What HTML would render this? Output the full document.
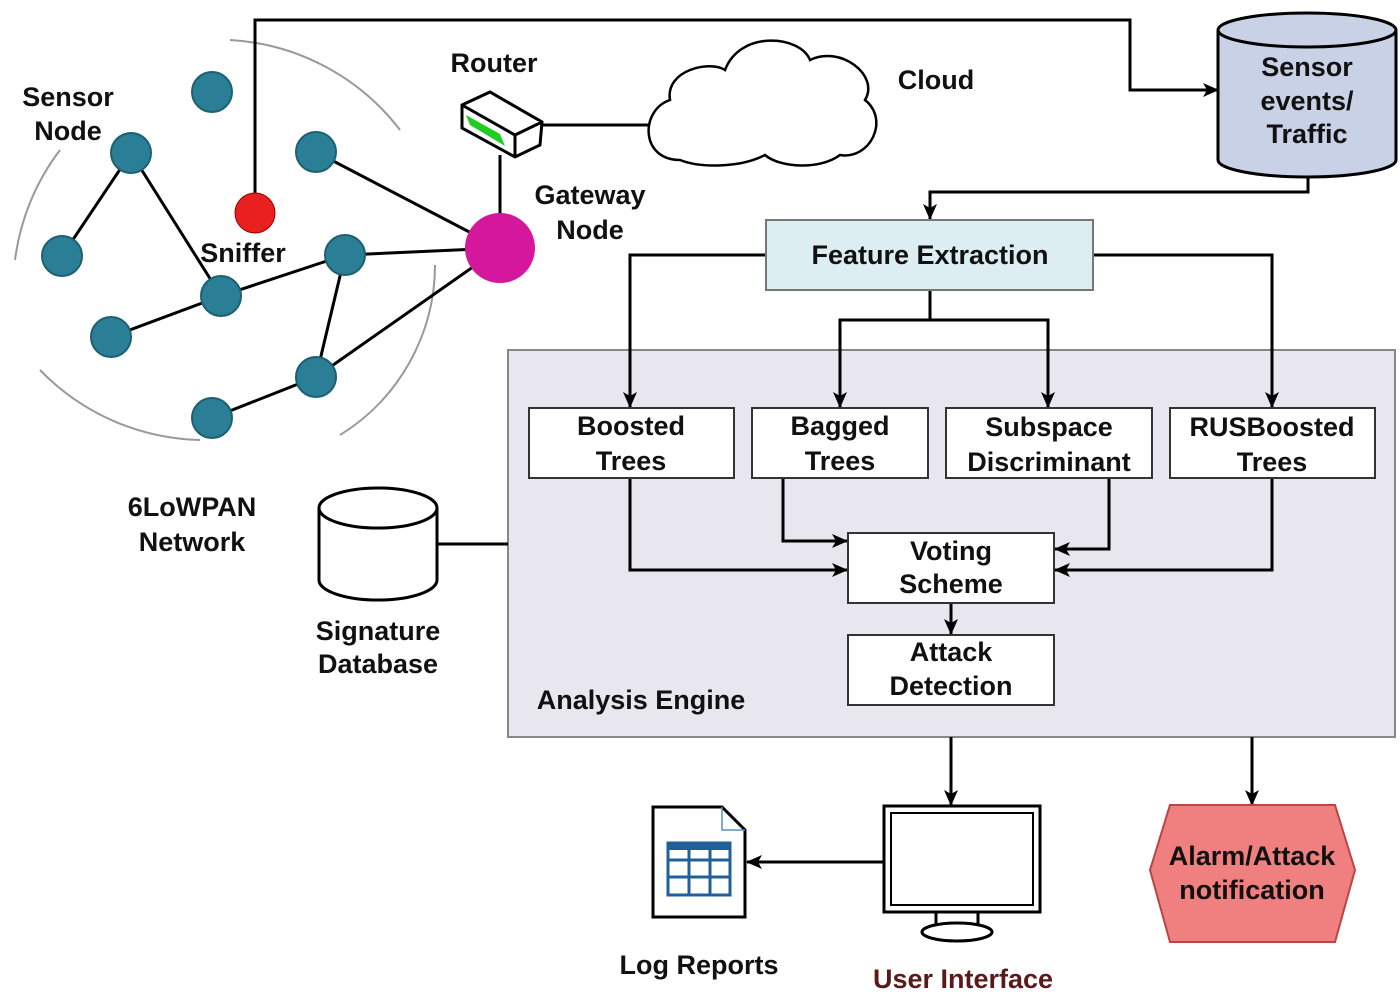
<!DOCTYPE html>
<html><head><meta charset="utf-8"><style>body{margin:0;background:#fff}svg{display:block}text{font-family:"Liberation Sans",sans-serif;font-weight:bold;font-size:27px;fill:#111;text-anchor:middle}</style></head><body>
<svg width="1400" height="994" viewBox="0 0 1400 994">
<defs><marker id="a" markerWidth="16" markerHeight="16" refX="15" refY="8" orient="auto" markerUnits="userSpaceOnUse"><path d="M0,1 L16,8 L0,15 L4,8z" fill="#000"/></marker></defs>
<rect x="508" y="350" width="887" height="387" fill="#e8e6ee" stroke="#888" stroke-width="2"/>
<g fill="none" stroke="#999" stroke-width="2">
<path d="M230,40 A230,230 0 0 1 400,130"/><path d="M60,150 A230,230 0 0 0 15,260"/><path d="M40,370 A230,230 0 0 0 200,440"/><path d="M340,435 A200,200 0 0 0 435,265"/>
</g>
<g stroke="#000" stroke-width="3" fill="none">
<path d="M131,153 L62,256 M131,153 L221,296 M316,152 L500,248 M221,296 L345,255 M111,337 L221,296 M345,255 L500,248 M345,255 L316,377 M316,377 L500,248 M212,418 L316,377 M500,155 L500,215 M540,125 L652,125"/>
<path d="M255,213 V20 H1130 V90 H1218" marker-end="url(#a)"/>
<path d="M1308,178 V192 H930 V219" marker-end="url(#a)"/>
<path d="M766,255 H630 V407" marker-end="url(#a)"/>
<path d="M1093,255 H1272 V407" marker-end="url(#a)"/>
<path d="M930,290 V320 H840 V407" marker-end="url(#a)"/>
<path d="M930,320 H1048 V407" marker-end="url(#a)"/>
<path d="M630,478 V570 H847" marker-end="url(#a)"/>
<path d="M783,478 V541 H847" marker-end="url(#a)"/>
<path d="M1109,478 V549 H1055" marker-end="url(#a)"/>
<path d="M1272,478 V570 H1055" marker-end="url(#a)"/>
<path d="M951,603 V634" marker-end="url(#a)"/>
<path d="M951,737 V805" marker-end="url(#a)"/>
<path d="M1252,737 V805" marker-end="url(#a)"/>
<path d="M884,862 H747" marker-end="url(#a)"/>
<path d="M437,544 H508"/>
</g>
<g fill="#2a7f96" stroke="#1d6070" stroke-width="2">
<circle cx="212" cy="92" r="20"/><circle cx="316" cy="152" r="20"/><circle cx="131" cy="153" r="20"/><circle cx="62" cy="256" r="20"/><circle cx="221" cy="296" r="20"/><circle cx="345" cy="255" r="20"/><circle cx="111" cy="337" r="20"/><circle cx="316" cy="377" r="20"/><circle cx="212" cy="418" r="20"/>
</g>
<circle cx="500" cy="248" r="35" fill="#d4179c"/>
<circle cx="255" cy="213" r="20" fill="#e8201e" stroke="#900" stroke-width="1"/>
<g stroke="#000" stroke-width="3" fill="#fff"><path d="M462,105 L490,92 L542,122 L540,145 L515,157 L462,128z"/><path d="M462,105 L515,135 L542,122 M515,135 L515,157"/></g>
<path d="M466,115 L500,134 L505,146 L470,125z" fill="#2c2"/>
<path d="M680,160 C640,160 640,110 670,100 C665,70 710,60 725,70 C740,30 800,35 810,60 C840,45 880,75 865,100 C890,120 870,160 840,155 C820,170 780,168 765,155 C740,168 700,168 680,160z" fill="#fff" stroke="#000" stroke-width="2.5"/>
<path d="M1218,30 V160 A89,17 0 0 0 1396,160 V30" fill="#c9d1e6" stroke="#000" stroke-width="3"/>
<ellipse cx="1307" cy="30" rx="89" ry="17" fill="#c9d1e6" stroke="#000" stroke-width="3"/>
<path d="M319,508 V580 A59,20 0 0 0 437,580 V508" fill="#fff" stroke="#000" stroke-width="3"/>
<ellipse cx="378" cy="508" rx="59" ry="20" fill="#fff" stroke="#000" stroke-width="3"/>
<rect x="766" y="220" width="327" height="70" fill="#ddeef3" stroke="#777" stroke-width="2"/>
<g fill="#fff" stroke="#333" stroke-width="2">
<rect x="529" y="408" width="205" height="70"/><rect x="752" y="408" width="176" height="70"/><rect x="946" y="408" width="206" height="70"/><rect x="1170" y="408" width="205" height="70"/>
<rect x="848" y="533" width="206" height="70"/><rect x="848" y="635" width="206" height="70"/>
</g>
<path d="M653,807 H722 L745,830 V917 H653z" fill="#fff" stroke="#000" stroke-width="3"/>
<path d="M722,807 V830 H745" fill="none" stroke="#5b8fc0" stroke-width="1.5"/>
<g stroke="#1f5f9a" stroke-width="3" fill="#fff"><rect x="668" y="843" width="62" height="52"/><path d="M668,860 H730 M668,877 H730 M689,850 V895 M710,850 V895"/></g>
<rect x="668" y="843" width="62" height="7" fill="#1f5f9a"/>
<rect x="884" y="806" width="156" height="106" fill="#fff" stroke="#000" stroke-width="3"/>
<rect x="891" y="813" width="142" height="92" fill="#fff" stroke="#000" stroke-width="2"/>
<path d="M936,912 V928 M978,912 V928" stroke="#000" stroke-width="3"/>
<ellipse cx="957" cy="932" rx="35" ry="9" fill="#fff" stroke="#000" stroke-width="3"/>
<polygon points="1170,805 1335,805 1355,870 1335,942 1170,942 1150,870" fill="#f08080" stroke="#b44" stroke-width="2"/>
<text x="68" y="106">Sensor</text><text x="68" y="140">Node</text>
<text x="494" y="72">Router</text><text x="936" y="89">Cloud</text>
<text x="590" y="204">Gateway</text><text x="590" y="239">Node</text>
<text x="243" y="262">Sniffer</text>
<text x="192" y="516">6LoWPAN</text><text x="192" y="551">Network</text>
<text x="378" y="640">Signature</text><text x="378" y="673">Database</text>
<text x="1307" y="76">Sensor</text><text x="1307" y="110">events/</text><text x="1307" y="143">Traffic</text>
<text x="930" y="264">Feature Extraction</text>
<text x="631" y="435">Boosted</text><text x="631" y="470">Trees</text>
<text x="840" y="435">Bagged</text><text x="840" y="470">Trees</text>
<text x="1049" y="436">Subspace</text><text x="1049" y="471">Discriminant</text>
<text x="1272" y="436">RUSBoosted</text><text x="1272" y="471">Trees</text>
<text x="951" y="560">Voting</text><text x="951" y="593">Scheme</text>
<text x="951" y="661">Attack</text><text x="951" y="695">Detection</text>
<text x="641" y="709">Analysis Engine</text>
<text x="1252" y="865">Alarm/Attack</text><text x="1252" y="899">notification</text>
<text x="699" y="974">Log Reports</text>
<text x="963" y="988" style="fill:#5a1a1a">User Interface</text>
</svg>
</body></html>
